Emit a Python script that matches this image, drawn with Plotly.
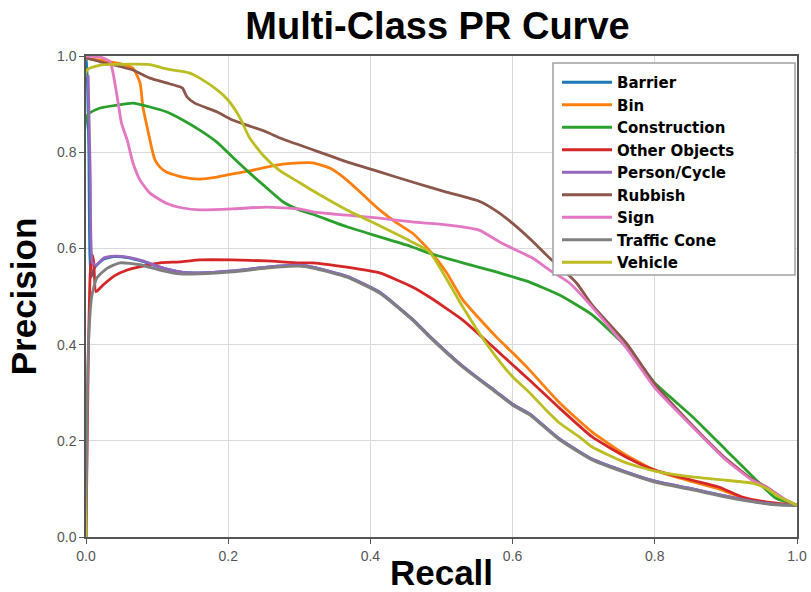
import plotly.graph_objects as go

# ---------------- data ----------------
class_names = ["Barrier", "Bin", "Construction", "Other Objects", "Person/Cycle",
               "Rubbish", "Sign", "Traffic Cone", "Vehicle"]
colors = ["#1f77b4", "#ff7f0e", "#2ca02c", "#d62728", "#9467bd",
          "#8c564b", "#e377c2", "#7f7f7f", "#bcbd22"]

barrier_recall = [0.0, 0.002, 0.004, 0.007, 0.012, 0.025, 0.04, 0.058, 0.08, 0.104, 0.132, 0.16,
                  0.206, 0.254, 0.3, 0.319, 0.367, 0.413, 0.459, 0.483, 0.53, 0.577,
                  0.6, 0.624, 0.666, 0.712, 0.76, 0.8, 0.853, 0.9, 0.947, 0.97, 1.0]
barrier_precision = [1.0, 0.95, 0.8, 0.54, 0.56, 0.578, 0.583, 0.581, 0.573, 0.561, 0.551, 0.549,
                     0.553, 0.561, 0.565, 0.561, 0.542, 0.509, 0.453, 0.418, 0.355, 0.302,
                     0.276, 0.256, 0.204, 0.162, 0.135, 0.116, 0.1, 0.085, 0.072, 0.068, 0.066]

bin_recall = [0.0, 0.01, 0.02, 0.044, 0.055, 0.066, 0.076, 0.08, 0.086, 0.093, 0.097, 0.104, 0.113,
              0.136, 0.16, 0.184, 0.206, 0.23, 0.254, 0.277, 0.3, 0.319, 0.343, 0.367, 0.39, 0.413,
              0.437, 0.459, 0.483, 0.507, 0.53, 0.577, 0.6, 0.624, 0.666, 0.712, 0.76, 0.8, 0.853,
              0.89, 0.923, 0.956, 1.0]
bin_precision = [0.995, 0.993, 0.992, 0.985, 0.981, 0.975, 0.944, 0.894, 0.852, 0.805, 0.784, 0.769,
                 0.759, 0.748, 0.744, 0.748, 0.755, 0.761, 0.769, 0.775, 0.778, 0.778, 0.767, 0.742,
                 0.711, 0.68, 0.653, 0.632, 0.596, 0.55, 0.493, 0.416, 0.383, 0.347, 0.279, 0.218,
                 0.17, 0.139, 0.115, 0.1, 0.082, 0.071, 0.066]

construction_recall = [0.0, 0.002, 0.02, 0.044, 0.066, 0.09, 0.113, 0.136, 0.16, 0.184, 0.206, 0.23,
                       0.254, 0.277, 0.3, 0.319, 0.367, 0.413, 0.459, 0.483, 0.53, 0.577, 0.6, 0.624,
                       0.666, 0.712, 0.76, 0.8, 0.853, 0.9, 0.947, 0.97, 1.0]
construction_precision = [0.0, 0.877, 0.892, 0.898, 0.902, 0.894, 0.884, 0.867, 0.846, 0.821, 0.79,
                          0.757, 0.726, 0.697, 0.68, 0.671, 0.645, 0.624, 0.603, 0.59, 0.57, 0.551,
                          0.541, 0.53, 0.503, 0.462, 0.395, 0.32, 0.25, 0.181, 0.112, 0.081, 0.066]

other_recall = [0.0, 0.003, 0.006, 0.009, 0.011, 0.014, 0.024, 0.04, 0.058, 0.08, 0.104, 0.132,
                0.16, 0.206, 0.254, 0.3, 0.319, 0.367, 0.413, 0.459, 0.483, 0.53, 0.577, 0.6,
                0.624, 0.666, 0.712, 0.76, 0.8, 0.853, 0.89, 0.923, 0.956, 1.0]
other_precision = [0.0, 0.35, 0.55, 0.586, 0.57, 0.51, 0.524, 0.543, 0.555, 0.563, 0.57, 0.572,
                   0.576, 0.576, 0.574, 0.57, 0.57, 0.561, 0.549, 0.52, 0.499, 0.451, 0.389, 0.358,
                   0.326, 0.268, 0.208, 0.166, 0.139, 0.118, 0.104, 0.083, 0.073, 0.066]

person_recall = [0.003, 0.006, 0.009, 0.014, 0.025, 0.04, 0.058, 0.08, 0.104, 0.132, 0.16, 0.206,
                 0.254, 0.3, 0.319, 0.367, 0.413, 0.459, 0.483, 0.53, 0.577, 0.6,
                 0.624, 0.666, 0.712, 0.76, 0.8, 0.853, 0.9, 0.947, 0.97, 1.0]
person_precision = [0.96, 0.75, 0.57, 0.565, 0.58, 0.584, 0.582, 0.574, 0.561, 0.551, 0.549, 0.553,
                    0.561, 0.565, 0.561, 0.542, 0.509, 0.453, 0.418, 0.355, 0.302,
                    0.276, 0.256, 0.204, 0.162, 0.135, 0.116, 0.1, 0.085, 0.072, 0.068, 0.066]

rubbish_recall = [0.0, 0.02, 0.034, 0.066, 0.09, 0.113, 0.132, 0.136, 0.142, 0.153, 0.184, 0.206,
                  0.254, 0.272, 0.319, 0.367, 0.413, 0.459, 0.507, 0.553, 0.58, 0.6, 0.628, 0.652,
                  0.675, 0.69, 0.712, 0.76, 0.8, 0.853, 0.9, 0.937, 0.956, 0.984, 1.0]
rubbish_precision = [0.996, 0.988, 0.983, 0.971, 0.954, 0.944, 0.936, 0.933, 0.915, 0.902, 0.884,
                     0.867, 0.842, 0.83, 0.805, 0.78, 0.759, 0.738, 0.717, 0.698, 0.675, 0.652, 0.615,
                     0.58, 0.55, 0.528, 0.482, 0.403, 0.318, 0.232, 0.163, 0.12, 0.105, 0.077, 0.066]

sign_recall = [0.0, 0.02, 0.034, 0.038, 0.043, 0.05, 0.058, 0.066, 0.076, 0.09, 0.113, 0.136, 0.16,
               0.206, 0.254, 0.3, 0.319, 0.367, 0.413, 0.459, 0.507, 0.553, 0.58, 0.6, 0.628, 0.652,
               0.68, 0.712, 0.76, 0.8, 0.853, 0.9, 0.937, 0.956, 0.984, 1.0]
sign_precision = [1.0, 0.998, 0.988, 0.965, 0.923, 0.86, 0.825, 0.778, 0.742, 0.715, 0.694, 0.684,
                  0.68, 0.682, 0.686, 0.682, 0.676, 0.669, 0.663, 0.655, 0.649, 0.638, 0.615, 0.6,
                  0.58, 0.555, 0.528, 0.478, 0.393, 0.31, 0.229, 0.16, 0.118, 0.104, 0.077, 0.066]

cone_recall = [0.0, 0.002, 0.004, 0.008, 0.015, 0.03, 0.048, 0.076, 0.104, 0.132, 0.16, 0.206,
               0.254, 0.3, 0.319, 0.367, 0.413, 0.459, 0.483, 0.53, 0.577, 0.6, 0.624, 0.666,
               0.712, 0.76, 0.8, 0.853, 0.9, 0.947, 0.97, 1.0]
cone_precision = [0.0, 0.3, 0.42, 0.5, 0.538, 0.559, 0.57, 0.566, 0.555, 0.547, 0.547, 0.551,
                  0.559, 0.563, 0.559, 0.54, 0.507, 0.451, 0.416, 0.353, 0.3, 0.274, 0.254, 0.202,
                  0.16, 0.133, 0.114, 0.098, 0.083, 0.071, 0.067, 0.066]

vehicle_recall = [0.0, 0.001, 0.02, 0.066, 0.09, 0.113, 0.145, 0.16, 0.184, 0.2, 0.216, 0.23, 0.25,
                  0.272, 0.3, 0.319, 0.367, 0.413, 0.459, 0.483, 0.53, 0.553, 0.577, 0.6, 0.624,
                  0.647, 0.666, 0.694, 0.712, 0.76, 0.8, 0.853, 0.9, 0.937, 0.956, 0.975, 1.0]
vehicle_precision = [0.0, 0.97, 0.981, 0.983, 0.982, 0.973, 0.965, 0.954, 0.93, 0.908, 0.873, 0.83,
                     0.792, 0.762, 0.737, 0.72, 0.68, 0.647, 0.613, 0.593, 0.478, 0.424, 0.374, 0.333,
                     0.3, 0.264, 0.237, 0.208, 0.187, 0.154, 0.137, 0.125, 0.118, 0.112, 0.102,
                     0.083, 0.066]

series_recall = [barrier_recall, bin_recall, construction_recall, other_recall, person_recall,
                 rubbish_recall, sign_recall, cone_recall, vehicle_recall]
series_precision = [barrier_precision, bin_precision, construction_precision, other_precision,
                    person_precision, rubbish_precision, sign_precision, cone_precision,
                    vehicle_precision]

tick_vals = [0.0, 0.2, 0.4, 0.6, 0.8, 1.0]
tick_text = ["0.0", "0.2", "0.4", "0.6", "0.8", "1.0"]

# ---------------- figure ----------------
FONT = "Liberation Sans, Arial, Helvetica, sans-serif"
W, H = 811, 592
ML, MR, MT, MB = 86, 14, 56, 55
PW, PH = W - ML - MR, H - MT - MB

fig = go.Figure()
for name, col, xs, ys in zip(class_names, colors, series_recall, series_precision):
    fig.add_trace(go.Scatter(x=xs, y=ys, mode="lines", name=name,
                             line=dict(color=col, width=2.8, shape="spline", smoothing=0.5)))

axis_common = dict(
    range=[0, 1], tickvals=tick_vals, ticktext=tick_text,
    showgrid=True, gridcolor="#d9d9d9", gridwidth=1,
    showline=True, linecolor="#555555", linewidth=1.5, mirror=True,
    ticks="outside", ticklen=5, tickcolor="#555555", tickwidth=1,
    tickfont=dict(family=FONT, size=14, color="#555555"),
    zeroline=False, automargin=False,
)

# legend frame (drawn as a shape so it can span the reference width)
box_l, box_r, box_t, box_b = 553, 795, 63, 275
fig.add_shape(type="rect", xref="paper", yref="paper", layer="above",
              x0=(box_l - ML) / PW, x1=(box_r - ML) / PW,
              y0=(H - MB - box_b) / PH, y1=(H - MB - box_t) / PH,
              fillcolor="white", line=dict(color="#a0a0a0", width=1.5))

fig.update_layout(
    width=W, height=H,
    margin=dict(l=ML, r=MR, t=MT, b=MB),
    paper_bgcolor="white", plot_bgcolor="white",
    title=dict(text="Multi-Class PR Curve", x=0.5 - 4 / PW, xref="paper", xanchor="center",
               y=1 - 26 / H, yref="container", yanchor="middle",
               font=dict(family=FONT, size=38, color="black", weight="bold")),
    xaxis=dict(axis_common, title=dict(text="Recall", standoff=6,
               font=dict(family=FONT, size=35, color="black", weight="bold"))),
    yaxis=dict(axis_common, title=dict(text="Precision", standoff=10,
               font=dict(family=FONT, size=35, color="black", weight="bold"))),
    legend=dict(x=(557 - ML) / PW, y=(H - MB - 66) / PH, xanchor="left", yanchor="top",
                bgcolor="rgba(0,0,0,0)", borderwidth=0,
                font=dict(family="DejaVu Sans, sans-serif", size=15, color="black",
                          weight="bold"),
                itemwidth=50, tracegroupgap=0),
    showlegend=True,
)

fig.write_html("out.html")
